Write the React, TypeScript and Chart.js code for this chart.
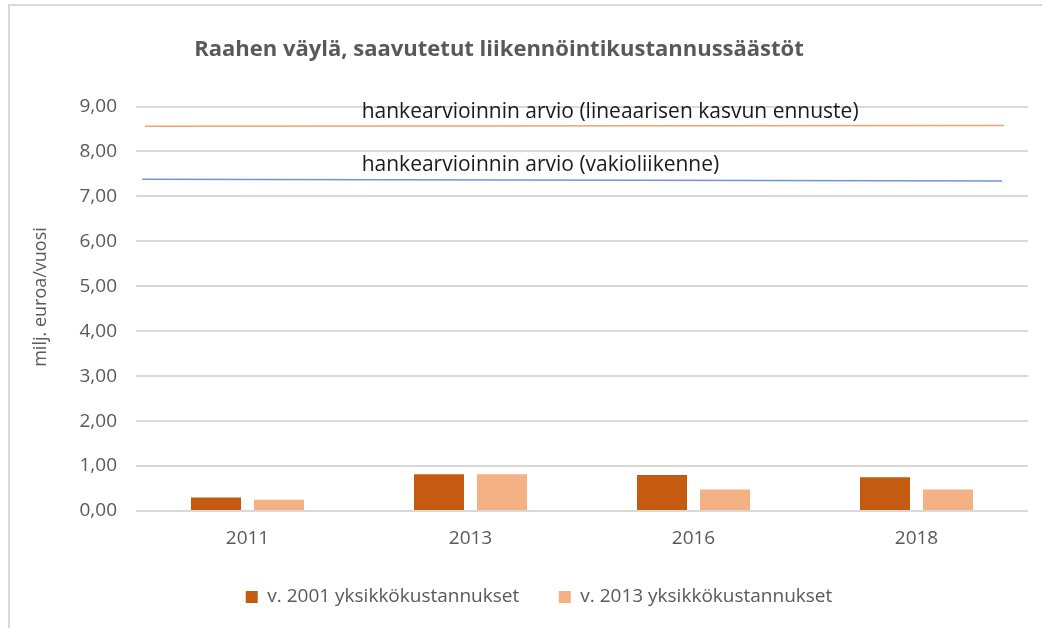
import React, { useEffect, useRef } from "react";
import { Chart, registerables } from "chart.js";

Chart.register(...registerables);

const categories = ["2011", "2013", "2016", "2018"];
const series2001 = [0.3, 0.82, 0.8, 0.75];
const series2013 = [0.25, 0.82, 0.48, 0.48];
const seriesLabels = ["v. 2001 yksikkökustannukset", "v. 2013 yksikkökustannukset"];

// reference lines (x in 0..1 of plot width, y in milj. euroa/vuosi)
const linearForecastX = [0.01, 0.973];
const linearForecastY = [8.56, 8.58];
const constantTrafficX = [0.007, 0.971];
const constantTrafficY = [7.38, 7.34];

const annotationTexts = [
  "hankearvioinnin arvio (lineaarisen kasvun ennuste)",
  "hankearvioinnin arvio (vakioliikenne)",
];
const annotationX = [0.253, 0.253];
const annotationY = [8.87, 7.7];

const yMin = 0;
const yMax = 9;
const yStep = 1;

const titleText = "Raahen väylä, saavutetut liikennöintikustannussäästöt";
const yTitleText = "milj. euroa/vuosi";

const FONT = "'Open Sans', 'Noto Sans', sans-serif";
const GRAY = "#595959";

const decor = {
  id: "decor",
  beforeDraw(chart: any) {
    const { ctx } = chart;
    ctx.save();
    ctx.fillStyle = "#ffffff";
    ctx.fillRect(0, 0, chart.width, chart.height);
    ctx.strokeStyle = "#d9d9d9";
    ctx.lineWidth = 2;
    ctx.beginPath();
    ctx.moveTo(9, chart.height);
    ctx.lineTo(9, 5);
    ctx.lineTo(chart.width, 5);
    ctx.stroke();
    // title
    ctx.fillStyle = GRAY;
    ctx.font = `bold 22px ${FONT}`;
    ctx.textAlign = "center";
    ctx.textBaseline = "middle";
    ctx.fillText(titleText, 499, 50);
    // y title
    ctx.font = `18px ${FONT}`;
    ctx.translate(41, 297);
    ctx.rotate(-Math.PI / 2);
    ctx.fillText(yTitleText, 0, 0);
    ctx.restore();
  },
  afterDatasetsDraw(chart: any) {
    const { ctx } = chart;
    const xs = chart.scales.x2;
    const ys = chart.scales.y;
    ctx.save();
    ctx.fillStyle = "#1a1a1a";
    ctx.font = `21px ${FONT}`;
    ctx.textAlign = "left";
    ctx.textBaseline = "middle";
    annotationTexts.forEach((t, i) => {
      ctx.fillText(t, xs.getPixelForValue(annotationX[i]), ys.getPixelForValue(annotationY[i]));
    });
    ctx.restore();
  },
};

export default function App() {
  const ref = useRef<HTMLCanvasElement>(null);
  useEffect(() => {
    const chart = new Chart(ref.current!, {
      type: "bar",
      data: {
        labels: categories,
        datasets: [
          {
            type: "line",
            label: "lineaarinen",
            data: linearForecastX.map((x, i) => ({ x, y: linearForecastY[i] })),
            xAxisID: "x2",
            borderColor: "#F4A071",
            borderWidth: 1.5,
            pointRadius: 0,
            order: 2,
          } as any,
          {
            type: "line",
            label: "vakio",
            data: constantTrafficX.map((x, i) => ({ x, y: constantTrafficY[i] })),
            xAxisID: "x2",
            borderColor: "#6F95D6",
            borderWidth: 1.5,
            pointRadius: 0,
            order: 2,
          } as any,
          {
            label: seriesLabels[0],
            data: series2001,
            backgroundColor: "#C55A11",
            xAxisID: "x",
            categoryPercentage: 1.13,
            barPercentage: 0.794,
            order: 1,
          },
          {
            label: seriesLabels[1],
            data: series2013,
            backgroundColor: "#F4B183",
            xAxisID: "x",
            categoryPercentage: 1.13,
            barPercentage: 0.794,
            order: 1,
          },
        ],
      },
      options: {
        animation: false,
        responsive: false,
        layout: { padding: { left: 50, right: 14, top: 106.5, bottom: 11.5 } },
        plugins: {
          title: { display: false },
          tooltip: { enabled: false },
          legend: {
            position: "bottom",
            labels: {
              filter: (item: any) => seriesLabels.includes(item.text),
              boxWidth: 12,
              boxHeight: 12,
              padding: 39.5,
              color: GRAY,
              font: { family: FONT, size: 19 },
            },
          },
        },
        scales: {
          x: {
            type: "category",
            grid: { display: false },
            border: { display: false },
            ticks: { color: GRAY, font: { family: FONT, size: 19 }, padding: 8 },
            afterFit: (s: any) => {
              s.height = 37;
            },
          },
          x2: {
            type: "linear",
            min: 0,
            max: 1,
            offset: false,
            display: false,
          },
          y: {
            min: yMin,
            max: yMax,
            ticks: {
              stepSize: yStep,
              color: GRAY,
              padding: 19,
              font: { family: FONT, size: 19 },
              callback: (v: any) => Number(v).toFixed(2).replace(".", ","),
            },
            grid: { color: "#d9d9d9", lineWidth: 2, drawTicks: false },
            border: { display: false },
            afterFit: (s: any) => {
              s.width = 86;
            },
          },
        },
      },
      plugins: [decor],
    });
    return () => chart.destroy();
  }, []);
  return (
    <div style={{ position: "absolute", left: 0, top: 0, width: 1042, height: 628 }}>
      <canvas ref={ref} width={1042} height={628} />
    </div>
  );
}
